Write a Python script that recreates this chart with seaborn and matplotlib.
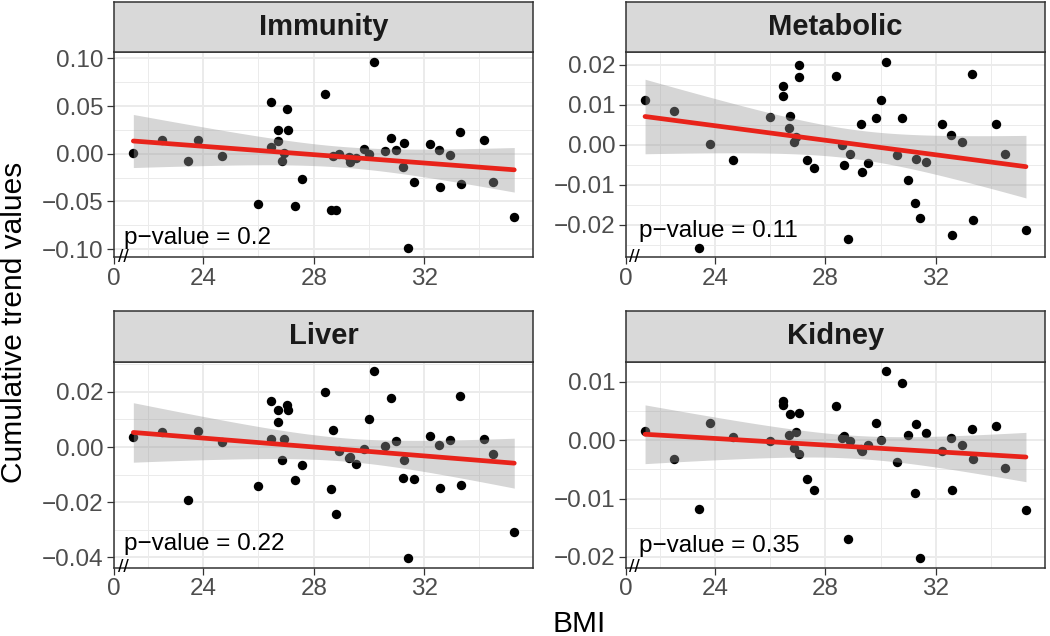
import numpy as np
import pandas as pd
import matplotlib
matplotlib.use("Agg")
import matplotlib.pyplot as plt
from matplotlib.ticker import FixedLocator
import seaborn as sns

# ---------------- data ----------------
bmi = [21.47, 22.52, 23.44, 23.82, 24.67, 26.00, 26.45, 26.47, 26.69, 26.71,
       27.05, 27.06, 26.86, 26.93, 27.58, 27.33, 28.40, 28.61, 28.82, 28.69,
       28.90, 29.31, 29.29, 29.53, 29.82, 30.01, 30.19, 30.58, 30.79, 30.98,
       31.23, 31.27, 31.43, 31.63, 32.22, 32.54, 32.58, 32.93, 33.30, 33.33,
       34.16, 34.49, 35.26]

immunity = [0.0003, 0.0143, -0.0073, 0.0147, -0.0025, -0.0528, 0.0069, 0.0538, 0.0136, 0.0252,
            0.0468, 0.0252, -0.0078, 0.0010, -0.0262, -0.0552, 0.0625, -0.0591, -0.0591, -0.0025,
            0.0000, -0.0088, -0.0031, -0.0042, 0.0045, 0.0000, 0.0967, 0.0031, 0.0164, 0.0042,
            -0.0136, 0.0108, -0.0989, -0.0301, 0.0101, 0.0042, -0.0353, -0.0018, 0.0231, -0.0322,
            0.0143, -0.0294, -0.0660]

metabolic = [0.01125, 0.0085, -0.02585, 0.00025, -0.00375, 0.0069, 0.0121, 0.01465, 0.0043, 0.00725,
             0.0200, 0.0169, 0.00065, 0.0019, -0.00575, -0.00375, 0.01725, 0.0000, -0.0236, -0.0051,
             -0.0022, -0.0069, 0.0053, -0.0047, 0.0067, 0.01125, 0.0208, -0.0026, 0.0067, -0.0089,
             -0.0145, -0.0036, -0.0183, -0.0043, 0.0051, 0.0024, -0.0227, 0.0008, 0.01765, -0.0189,
             0.0053, -0.00225, -0.0214]

liver = [0.0035, 0.0055, -0.0193, 0.0059, 0.0017, -0.0142, 0.0028, 0.0169, 0.0092, 0.0135,
         0.0153, 0.0135, -0.0046, 0.0030, -0.0064, -0.0120, 0.0199, -0.0154, -0.0243, 0.0062,
         -0.0013, -0.0035, -0.0040, -0.0062, -0.0009, 0.0102, 0.0275, 0.0002, 0.0177, 0.0023,
         -0.0112, -0.0049, -0.0404, -0.0116, 0.0041, 0.0006, -0.0148, 0.0025, 0.0187, -0.0138,
         0.0030, -0.0024, -0.0308]

kidney = [0.00154, -0.00314, -0.0118, 0.0029, 0.0005, -0.0002, 0.0067, 0.0060, 0.0009, 0.0045,
          0.0047, -0.0023, -0.0014, 0.0014, -0.0086, -0.0066, 0.0059, 0.0003, -0.0169, 0.0008,
          -0.0002, -0.0018, -0.0015, -0.0008, 0.0030, 0.0001, 0.0118, -0.0038, 0.0098, 0.0009,
          -0.0091, 0.0027, -0.0202, 0.0013, -0.0019, 0.0004, -0.0086, -0.0008, 0.0019, -0.0032,
          0.0025, -0.0047, -0.0119]

panel_names = ["Immunity", "Metabolic", "Liver", "Kidney"]
p_values = ["0.2", "0.11", "0.22", "0.35"]

x_ticks = [24, 28, 32]
x_tick_labels = ["24", "28", "32"]
x_minor = [22, 26, 30, 34]

y_ticks_immunity = [-0.10, -0.05, 0.00, 0.05, 0.10]
y_ticks_metabolic = [-0.02, -0.01, 0.00, 0.01, 0.02]
y_ticks_liver = [-0.04, -0.02, 0.00, 0.02]
y_ticks_kidney = [-0.02, -0.01, 0.00, 0.01]

# ---------------- style ----------------
sns.set_theme(style="white")
plt.rcParams['font.family'] = ['Liberation Sans', 'DejaVu Sans']
plt.rcParams['axes.unicode_minus'] = True

series = {"Immunity": immunity, "Metabolic": metabolic, "Liver": liver, "Kidney": kidney}
yticks_map = {"Immunity": y_ticks_immunity, "Metabolic": y_ticks_metabolic,
              "Liver": y_ticks_liver, "Kidney": y_ticks_kidney}
pval_ypos = {"Immunity": 0.094, "Metabolic": 0.13, "Liver": 0.114, "Kidney": 0.105}

FIG_W, FIG_H = 1050, 636
fig = plt.figure(figsize=(FIG_W / 100, FIG_H / 100), dpi=100)

def px_rect(x0, y0, x1, y1):
    return [x0 / FIG_W, 1 - y1 / FIG_H, (x1 - x0) / FIG_W, (y1 - y0) / FIG_H]

col_x = [(114.3, 533.3), (626.0, 1045.0)]
row_y = [((2.0, 52.3), (52.3, 257.3)), ((311.0, 362.0), (362.0, 567.5))]

STRIP_FILL = "#D9D9D9"
BORDER = "#333333"
GRID = "#EBEBEB"
RED = "#E8231A"
T975 = 2.0195  # t quantile, df = 41


def ols_band(x, y, xs):
    n = len(x)
    X = np.column_stack([np.ones(n), x])
    beta = np.linalg.lstsq(X, y, rcond=None)[0]
    resid = y - X @ beta
    s2 = resid @ resid / (n - 2)
    XtXi = np.linalg.inv(X.T @ X)
    Xs = np.column_stack([np.ones_like(xs), xs])
    fit = Xs @ beta
    se = np.sqrt(np.einsum('ij,jk,ik->i', Xs, XtXi, Xs) * s2)
    return fit, fit - T975 * se, fit + T975 * se


x_arr = np.array(bmi)
x_lo = x_arr.min() - 0.05 * (x_arr.max() - x_arr.min())
x_hi = x_arr.max() + 0.05 * (x_arr.max() - x_arr.min())

for i, name in enumerate(panel_names):
    r, c = divmod(i, 2)
    (sx0, sx1) = col_x[c]
    (strip_y, panel_y) = row_y[r]
    ax = fig.add_axes(px_rect(sx0, panel_y[0], sx1, panel_y[1]))
    sax = fig.add_axes(px_rect(sx0, strip_y[0], sx1, strip_y[1]))

    y_arr = np.array(series[name])
    df = pd.DataFrame({"BMI": x_arr, "value": y_arr})

    # points
    sns.scatterplot(data=df, x="BMI", y="value", ax=ax, color="black", s=46,
                    linewidth=0, zorder=2)
    # regression with 95% CI
    xs = np.linspace(x_arr.min(), x_arr.max(), 80)
    fit, lo, hi = ols_band(x_arr, y_arr, xs)
    ax.fill_between(xs, lo, hi, color="#999999", alpha=0.4, linewidth=0, zorder=3)
    fdf = pd.DataFrame({"BMI": xs, "fit": fit})
    sns.lineplot(data=fdf, x="BMI", y="fit", ax=ax, color=RED, linewidth=3.4, zorder=4)

    # limits
    ymin, ymax = y_arr.min(), y_arr.max()
    ypad = 0.05 * (ymax - ymin)
    ax.set_xlim(x_lo, x_hi)
    ax.set_ylim(ymin - ypad, ymax + ypad)

    # ticks
    yt = yticks_map[name]
    ax.set_yticks(yt)
    ax.set_yticklabels(["{:.2f}".format(v).replace("-", "\u2212") for v in yt])
    step = yt[1] - yt[0]
    ax.yaxis.set_minor_locator(FixedLocator([v + step / 2 for v in [yt[0] - step] + yt]))
    ax.set_xticks([x_lo] + x_ticks)
    ax.set_xticklabels(["0"] + x_tick_labels)
    ax.xaxis.set_minor_locator(FixedLocator(x_minor))

    ax.tick_params(axis="both", which="major", length=5, width=0.9, color=BORDER,
                   labelcolor="#4D4D4D", labelsize=17.5, pad=2.5, left=True, bottom=True)
    ax.tick_params(axis="both", which="minor", length=0)
    ax.set_xlabel("")
    ax.set_ylabel("")

    ax.set_axisbelow(True)
    ax.grid(True, which="major", color=GRID, linewidth=1.4, zorder=0)
    ax.grid(True, which="minor", color=GRID, linewidth=0.7, zorder=0)
    for sp in ax.spines.values():
        sp.set_color(BORDER)
        sp.set_linewidth(1.1)
        sp.set_visible(True)
    legend = ax.get_legend()
    if legend is not None:
        legend.remove()

    # axis break marker
    ax.text(x_lo + 0.32, 0.0, "//", transform=ax.get_xaxis_transform(), ha="center",
            va="center", fontsize=14, color="black", clip_on=False, zorder=6)

    # p-value annotation
    ax.text(0.022 if c == 0 else 0.03, pval_ypos[name], "p\u2212value = " + p_values[i],
            transform=ax.transAxes, ha="left", va="center", fontsize=17.5,
            color="black", zorder=6)

    # strip
    sax.set_facecolor(STRIP_FILL)
    sax.set_xticks([])
    sax.set_yticks([])
    for sp in sax.spines.values():
        sp.set_color(BORDER)
        sp.set_linewidth(1.1)
    sax.text(0.5, 0.5, name, transform=sax.transAxes, ha="center", va="center",
             fontsize=21, fontweight="bold", color="#1A1A1A")

fig.text(579.6 / FIG_W, 1 - 624 / FIG_H, "BMI", ha="center", va="center", fontsize=21.5,
         color="black")
fig.text(14 / FIG_W, 1 - 322 / FIG_H, "Cumulative trend values", ha="center", va="center",
         rotation=90, fontsize=21.5, color="black")

fig.savefig("out.png", dpi=100)
